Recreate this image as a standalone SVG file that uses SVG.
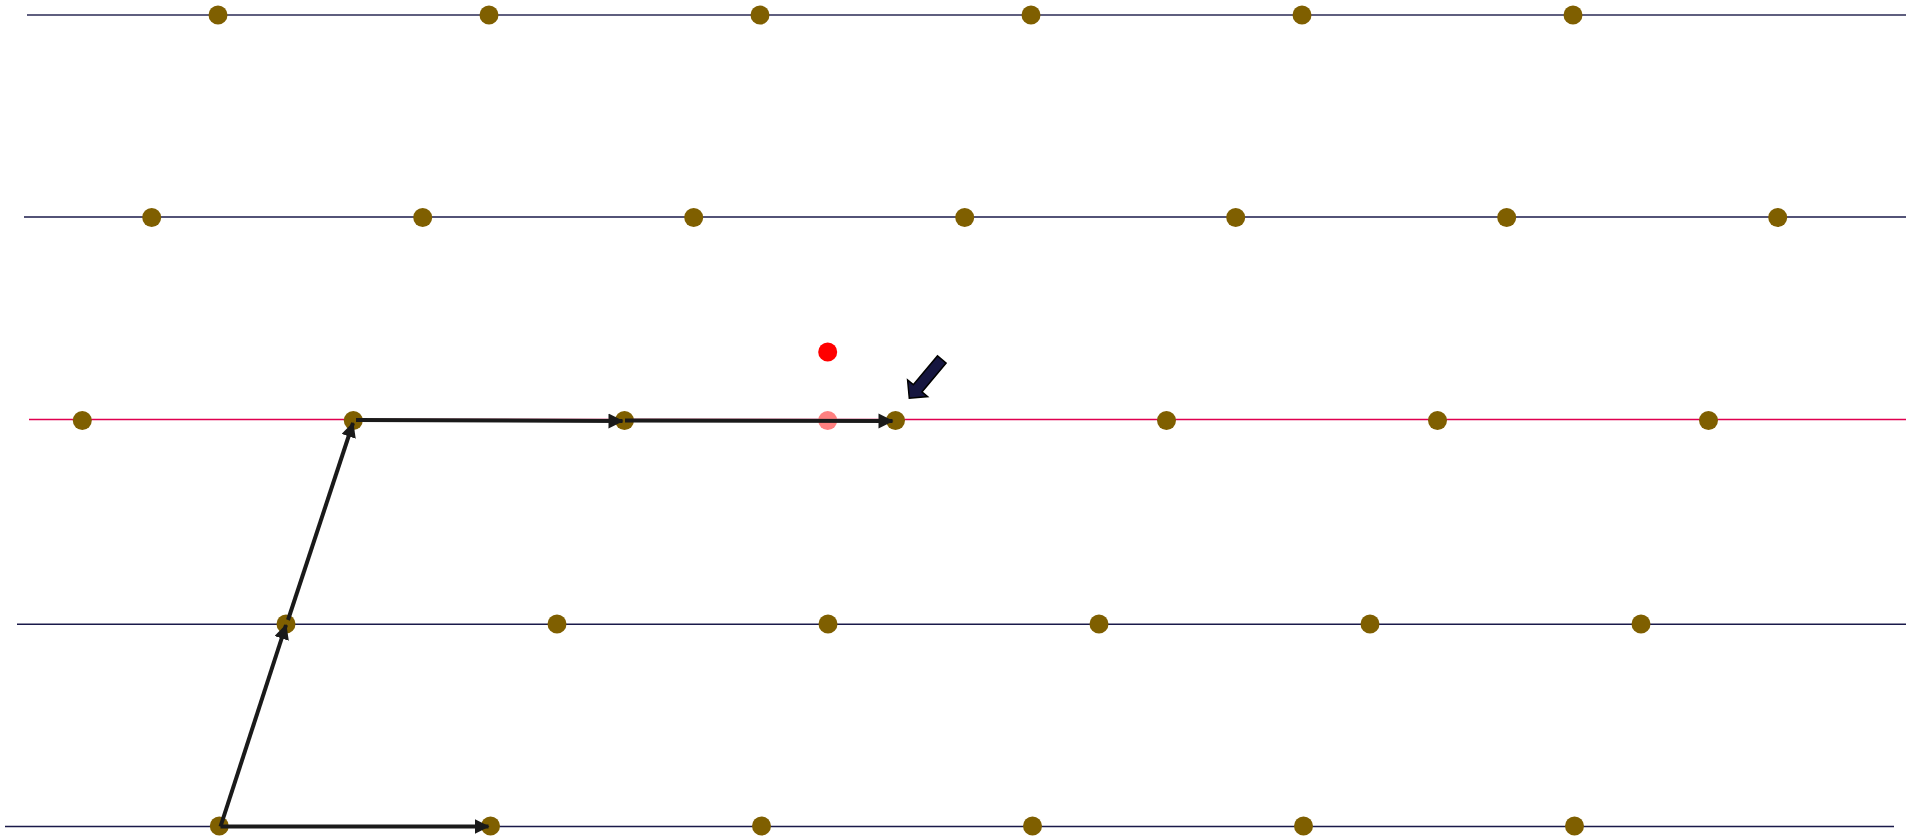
<svg xmlns="http://www.w3.org/2000/svg" width="1906" height="836" viewBox="0 0 1906 836">
  <style>
    .grid1 { stroke: #5f5f7f; stroke-width: 2; fill: none; }
    .grid { stroke: #1a1a4a; stroke-width: 1.5; fill: none; }
    .gridr { stroke: #e0004f; stroke-width: 1.5; fill: none; }
    .pt { fill: #7f5f00; }
    .conn { stroke: #1a1a1a; stroke-width: 4; fill: none; marker-end: url(#ah); }
  </style>
  <defs>
    <marker id="ah" markerUnits="userSpaceOnUse" markerWidth="16" markerHeight="16" refX="14" refY="7.5" orient="auto">
      <path d="M0,0 L15,7.5 L0,15 z" fill="#1a1a1a"/>
    </marker>
  </defs>
  <rect width="1906" height="836" fill="#ffffff"/>
  <g id="rows">
    <line class="grid1" x1="27" y1="15" x2="1906" y2="15"/>
    <line class="grid" x1="24" y1="217" x2="1906" y2="217"/>
    <line class="gridr" x1="29" y1="419.5" x2="1906" y2="419.5"/>
    <line class="grid" x1="17" y1="624.3" x2="1906" y2="624.3"/>
    <line class="grid" x1="5" y1="826.5" x2="1894" y2="826.5"/>
  </g>
  <g id="row1">
    <g id="p1-1"><circle class="pt" cx="218" cy="15" r="9.5"/></g>
    <g id="p1-2"><circle class="pt" cx="489" cy="15" r="9.5"/></g>
    <g id="p1-3"><circle class="pt" cx="760" cy="15" r="9.5"/></g>
    <g id="p1-4"><circle class="pt" cx="1031" cy="15" r="9.5"/></g>
    <g id="p1-5"><circle class="pt" cx="1302" cy="15" r="9.5"/></g>
    <g id="p1-6"><circle class="pt" cx="1573" cy="15" r="9.5"/></g>
  </g>
  <g id="row2">
    <g id="p2-1"><circle class="pt" cx="151.7" cy="217.5" r="9.5"/></g>
    <g id="p2-2"><circle class="pt" cx="422.7" cy="217.5" r="9.5"/></g>
    <g id="p2-3"><circle class="pt" cx="693.7" cy="217.5" r="9.5"/></g>
    <g id="p2-4"><circle class="pt" cx="964.7" cy="217.5" r="9.5"/></g>
    <g id="p2-5"><circle class="pt" cx="1235.7" cy="217.5" r="9.5"/></g>
    <g id="p2-6"><circle class="pt" cx="1506.7" cy="217.5" r="9.5"/></g>
    <g id="p2-7"><circle class="pt" cx="1777.7" cy="217.5" r="9.5"/></g>
  </g>
  <g id="row3">
    <g id="p3-1"><circle class="pt" cx="82.3" cy="420.5" r="9.5"/></g>
    <g id="p3-2"><circle class="pt" cx="353.3" cy="420.5" r="9.5"/></g>
    <g id="p3-3"><circle class="pt" cx="624.5" cy="420.5" r="9.5"/></g>
    <g id="p3-4"><circle class="pt" cx="895.5" cy="420.5" r="9.5"/></g>
    <g id="p3-5"><circle class="pt" cx="1166.5" cy="420.5" r="9.5"/></g>
    <g id="p3-6"><circle class="pt" cx="1437.5" cy="420.5" r="9.5"/></g>
    <g id="p3-7"><circle class="pt" cx="1708.5" cy="420.5" r="9.5"/></g>
  </g>
  <g id="row4">
    <g id="p4-1"><circle class="pt" cx="286" cy="624" r="9.5"/></g>
    <g id="p4-2"><circle class="pt" cx="557" cy="624" r="9.5"/></g>
    <g id="p4-3"><circle class="pt" cx="828" cy="624" r="9.5"/></g>
    <g id="p4-4"><circle class="pt" cx="1099" cy="624" r="9.5"/></g>
    <g id="p4-5"><circle class="pt" cx="1370" cy="624" r="9.5"/></g>
    <g id="p4-6"><circle class="pt" cx="1641" cy="624" r="9.5"/></g>
  </g>
  <g id="row5">
    <g id="p5-1"><circle class="pt" cx="219.3" cy="826" r="9.5"/></g>
    <g id="p5-2"><circle class="pt" cx="490.5" cy="826" r="9.5"/></g>
    <g id="p5-3"><circle class="pt" cx="761.5" cy="826" r="9.5"/></g>
    <g id="p5-4"><circle class="pt" cx="1032.5" cy="826" r="9.5"/></g>
    <g id="p5-5"><circle class="pt" cx="1303.5" cy="826" r="9.5"/></g>
    <g id="p5-6"><circle class="pt" cx="1574.5" cy="826" r="9.5"/></g>
  </g>
  <g id="ghost"><circle cx="827.7" cy="420.5" r="9.5" fill="#ff8080"/></g>
  <g id="target"><circle cx="827.7" cy="352" r="9.5" fill="#ff0000"/></g>
  <g id="connectors">
    <line class="conn" x1="220.5" y1="826.5" x2="488.5" y2="826.5"/>
    <line class="conn" x1="220.5" y1="826.5" x2="286" y2="625"/>
    <line class="conn" x1="288" y1="620" x2="353" y2="423"/>
    <line class="conn" x1="356" y1="420" x2="622.5" y2="421"/>
    <line class="conn" x1="625" y1="420.5" x2="892.5" y2="421"/>
  </g>
  <g id="pointer">
    <polygon points="937.5,355.9 946.1,363.1 921.9,391.9 927.6,396.6 909.3,398.3 907.6,380 913.3,384.7" fill="#15153f" stroke="#000000" stroke-width="1.5" stroke-linejoin="miter"/>
  </g>
</svg>
